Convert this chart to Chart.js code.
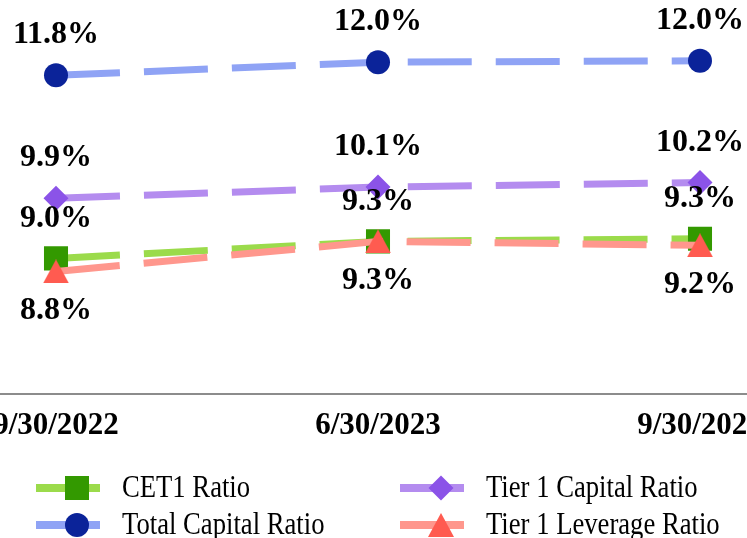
<!DOCTYPE html>
<html><head><meta charset="utf-8">
<script src="https://cdn.jsdelivr.net/npm/chart.js@4.4.0/dist/chart.umd.min.js"></script>
<style>
html,body{margin:0;padding:0;background:#fff;}
#wrap{position:relative;width:747px;height:538px;overflow:hidden;background:#fff;}
#inner{position:absolute;left:-105px;top:0;width:966px;height:538px;}
</style></head><body>
<div id="wrap"><div id="inner"><canvas id="c"></canvas></div></div>
<script>
// ---- data ----
const categories = ['9/30/2022', '6/30/2023', '9/30/2023'];
const seriesNames = ['CET1 Ratio', 'Total Capital Ratio', 'Tier 1 Capital Ratio', 'Tier 1 Leverage Ratio'];
const cet1Ratio = [9.0, 9.26, 9.3];
const totalCapitalRatio = [11.8, 12.0, 12.02];
const tier1CapitalRatio = [9.92, 10.09, 10.16];
const tier1LeverageRatio = [8.8, 9.26, 9.2];

// ---- styling ----
const SHIFT = 105; // canvas is shifted left so the outer labels are cropped like the reference
const serif = "'Liberation Serif','Times New Roman',serif";

// triangle marker centred on its bounding box
function triangleMarker(color) {
  const c = document.createElement('canvas');
  c.width = 26; c.height = 24;
  const g = c.getContext('2d');
  g.fillStyle = color;
  g.beginPath();
  g.moveTo(13, 0); g.lineTo(26, 24); g.lineTo(0, 24); g.closePath();
  g.fill();
  return c;
}

function ds(label, data, line, marker, style, radius, labelPos, order) {
  return {
    label, data, order,
    borderColor: line, backgroundColor: marker,
    pointBackgroundColor: marker, pointBorderColor: marker, pointBorderWidth: 0,
    pointStyle: style, pointRadius: radius, pointHoverRadius: radius,
    borderWidth: 7, borderDash: [64, 24], tension: 0, fill: false,
    labelPos
  };
}

const datasets = [
  ds(seriesNames[0], cet1Ratio, '#9bdb4b', '#339900', 'rect', 17, 'above', 3),
  ds(seriesNames[1], totalCapitalRatio, '#8fa3f5', '#0b2399', 'circle', 12, 'above', 2),
  ds(seriesNames[2], tier1CapitalRatio, '#b48cef', '#8b53e8', 'rectRot', 12.5, 'above', 1),
  ds(seriesNames[3], tier1LeverageRatio, '#ff978d', '#ff5b50', triangleMarker('#ff5b50'), 13, 'below', 0)
];

const valueLabels = {
  id: 'valueLabels',
  afterDatasetsDraw(chart) {
    const ctx = chart.ctx;
    ctx.save();
    ctx.font = "bold 32px " + serif;
    ctx.fillStyle = '#000';
    ctx.textAlign = 'center';
    ctx.textBaseline = 'middle';
    chart.data.datasets.forEach((d, i) => {
      const meta = chart.getDatasetMeta(i);
      meta.data.forEach((p, j) => {
        const txt = d.data[j].toFixed(1) + '%';
        const y = d.labelPos === 'below' ? p.y + 39 : p.y - 40;
        ctx.fillText(txt, p.x, y);
      });
    });
    ctx.restore();
  }
};

const legendOrder = [
  {i: 0, x: 36, y: 488},
  {i: 1, x: 36, y: 525},
  {i: 2, x: 400, y: 488},
  {i: 3, x: 400, y: 525}
];

const customLegend = {
  id: 'customLegend',
  afterDraw(chart) {
    const ctx = chart.ctx;
    ctx.save();
    legendOrder.forEach(it => {
      const d = chart.data.datasets[it.i];
      const x0 = it.x + SHIFT;
      ctx.strokeStyle = d.borderColor;
      ctx.lineWidth = 8;
      ctx.setLineDash([]);
      ctx.beginPath();
      ctx.moveTo(x0, it.y);
      ctx.lineTo(x0 + 64, it.y);
      ctx.stroke();
      ctx.fillStyle = d.pointBackgroundColor;
      Chart.helpers.drawPoint(ctx, {pointStyle: d.pointStyle, radius: d.pointRadius, borderWidth: 0}, x0 + 41, it.y);
      ctx.save();
      ctx.fillStyle = '#000';
      ctx.font = "31px " + serif;
      ctx.textAlign = 'left';
      ctx.textBaseline = 'middle';
      ctx.translate(x0 + 86, it.y + 1);
      ctx.scale(0.86, 1);
      ctx.fillText(d.label, 0, 0);
      ctx.restore();
    });
    ctx.restore();
  }
};

new Chart(document.getElementById('c'), {
  type: 'line',
  data: { labels: categories, datasets },
  options: {
    responsive: true,
    maintainAspectRatio: false,
    animation: false,
    layout: { autoPadding: false, padding: { top: 0, left: 0, right: 0, bottom: 79 } },
    plugins: { legend: { display: false }, tooltip: { enabled: false } },
    scales: {
      x: {
        offset: true,
        grid: { display: false, drawTicks: false },
        border: { display: true, color: '#8c8c8c', width: 2 },
        ticks: { color: '#000', padding: 14, maxRotation: 0, autoSkip: false,
                 font: { family: serif, size: 31, weight: 'bold' } }
      },
      y: { display: false, min: 6.93, max: 12.95 }
    }
  },
  plugins: [valueLabels, customLegend]
});
</script>
</body></html>
